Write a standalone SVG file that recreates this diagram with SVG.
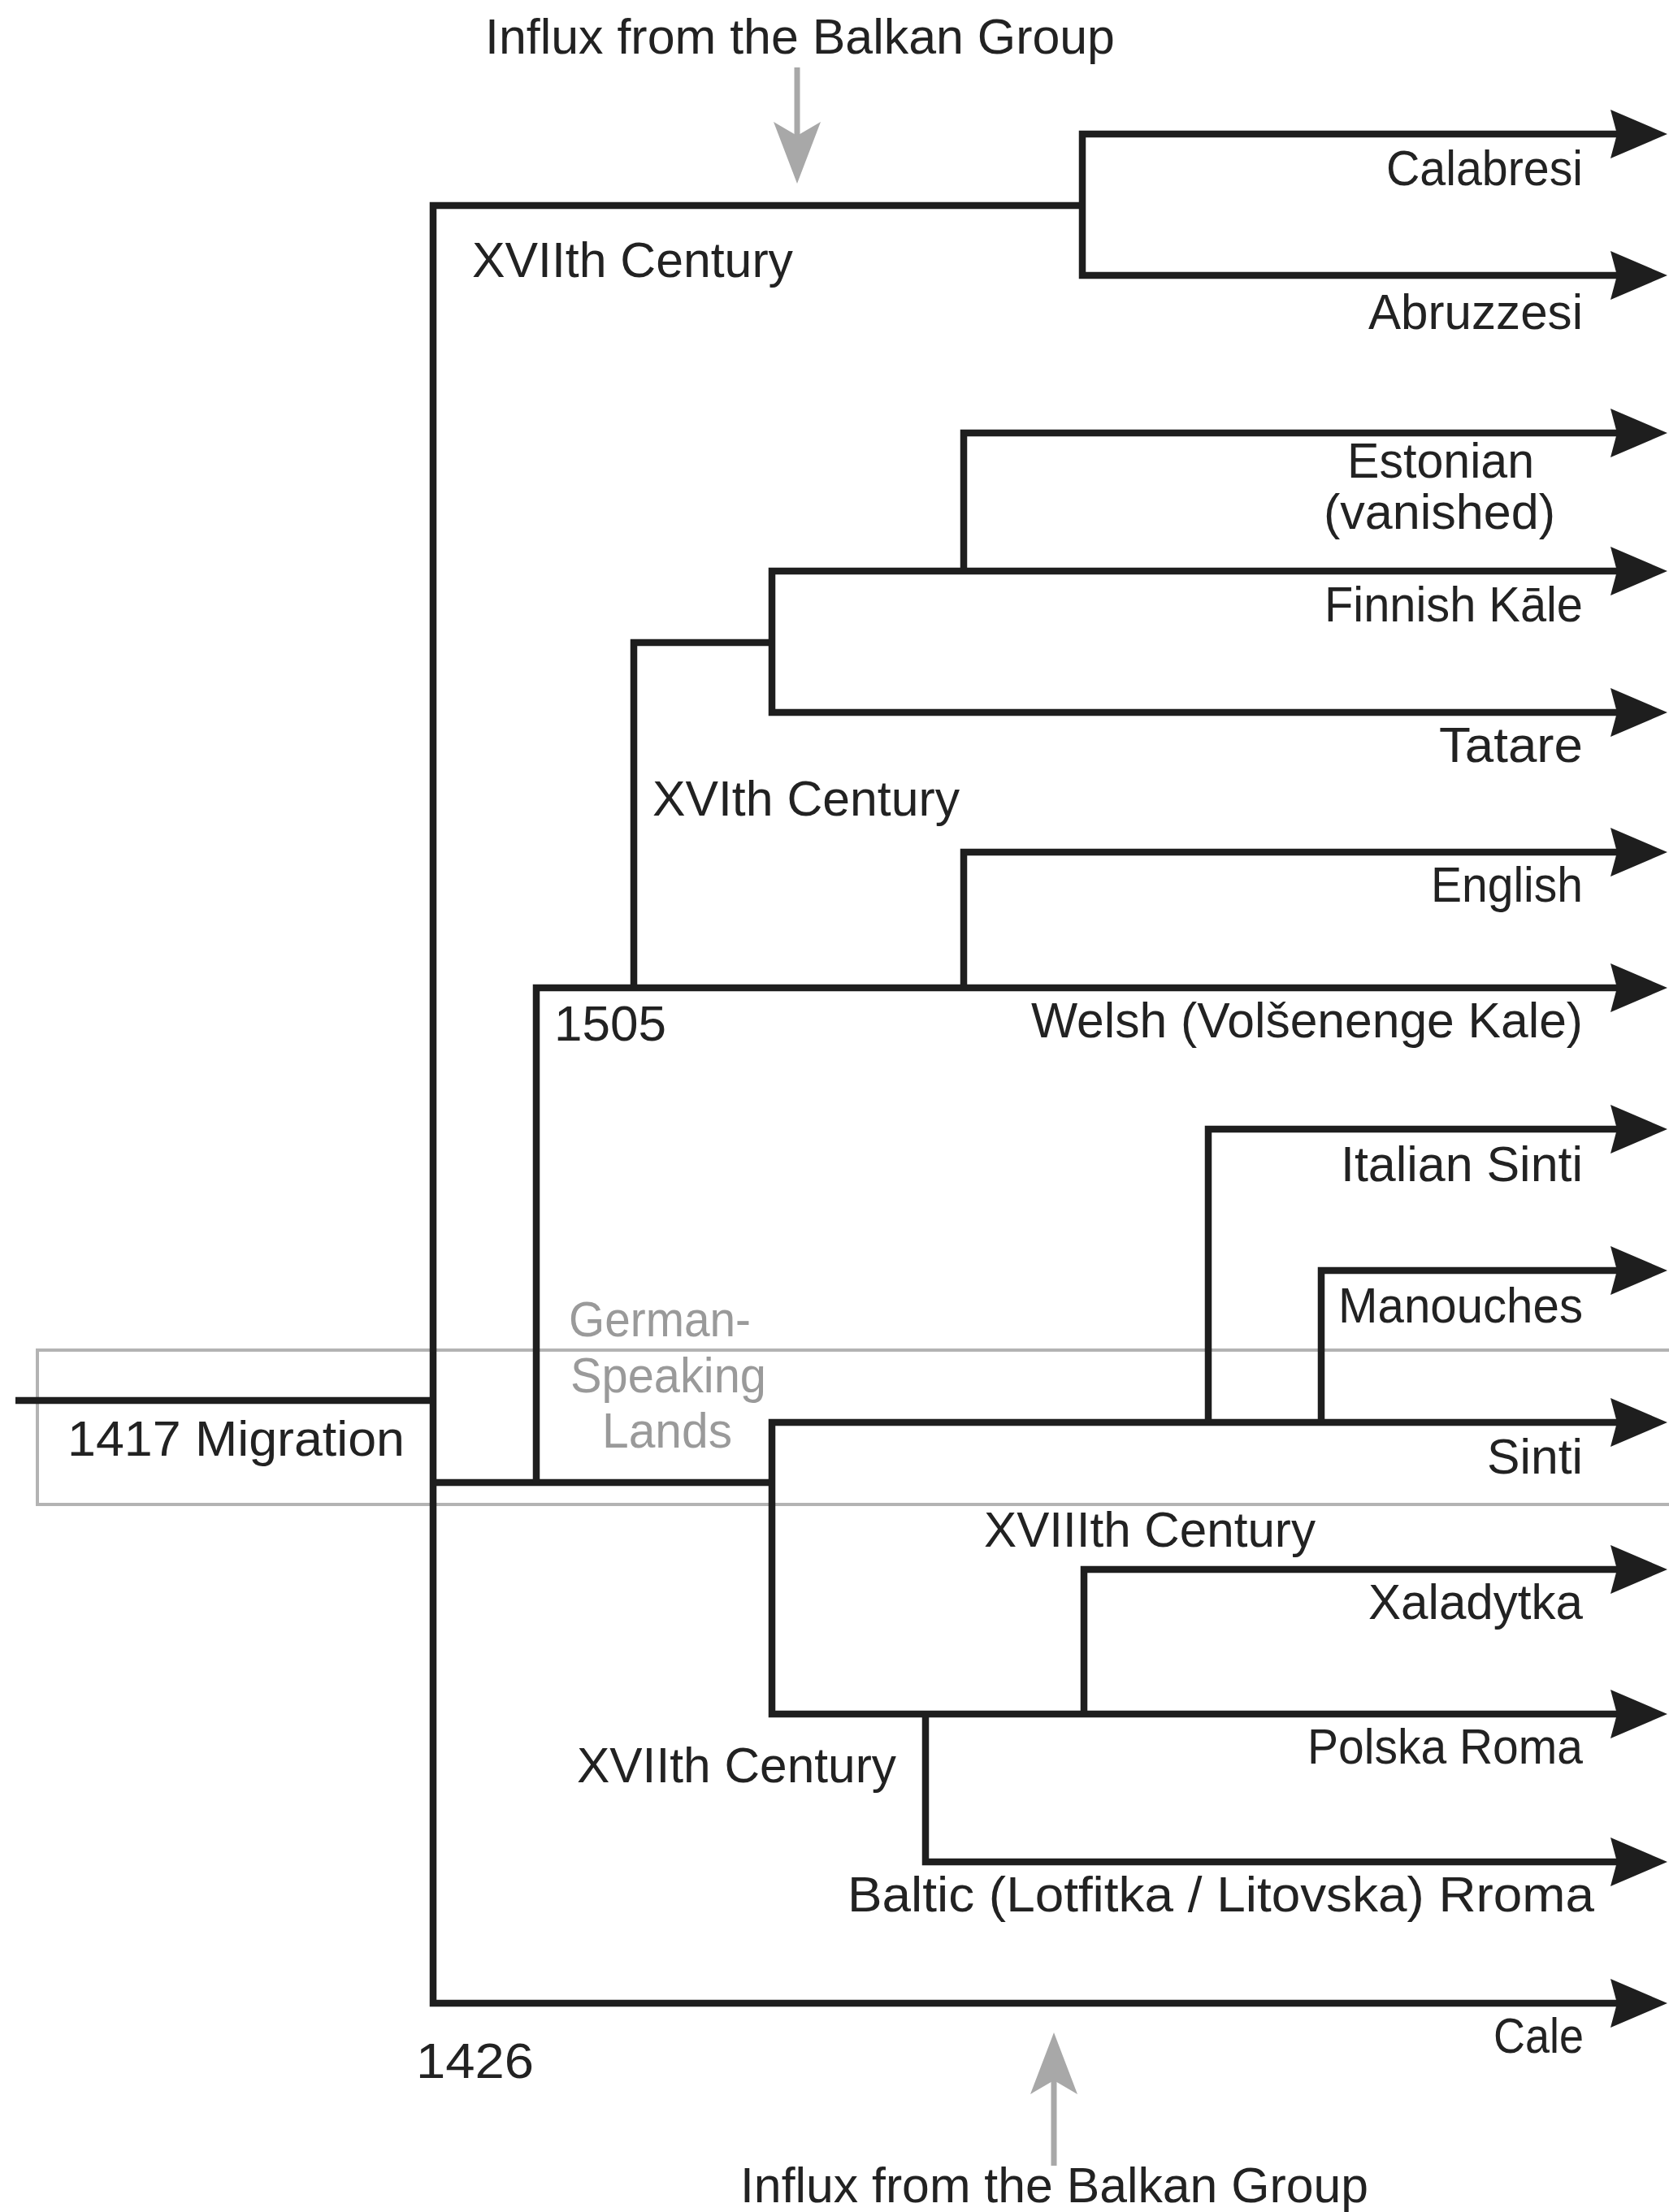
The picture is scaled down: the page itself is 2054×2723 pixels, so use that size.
<svg xmlns="http://www.w3.org/2000/svg" width="2054" height="2723" viewBox="0 0 2054 2723">
<style>
text{font-family:"Liberation Sans",Arial,sans-serif;font-size:61px;fill:#222}
text.g{fill:#9a9a9a}
.ln{fill:none;stroke:#1e1e1e;stroke-width:8.5;stroke-linejoin:miter;stroke-linecap:butt}
.ar{marker-end:url(#ah)}
.gl{fill:none;stroke:#a8a8a8;stroke-width:7}
.gh{fill:#a8a8a8}
</style>
<defs>
<marker id="ah" markerUnits="userSpaceOnUse" markerWidth="80" markerHeight="70" refX="10" refY="35" orient="auto">
<path d="M0,5 L70,35 L0,65 L8,35 Z" fill="#1e1e1e"/>
</marker>
</defs>
<rect x="0" y="0" width="2054" height="2723" fill="#fff"/>
<g id="region-german-speaking-lands">
<rect x="46" y="1662" width="2030" height="190" fill="none" stroke="#b3b3b3" stroke-width="4"/>
<text class="g" x="700" y="1645" textLength="224" lengthAdjust="spacingAndGlyphs">German-</text>
<text class="g" x="702" y="1714" textLength="241" lengthAdjust="spacingAndGlyphs">Speaking</text>
<text class="g" x="741" y="1782" textLength="160" lengthAdjust="spacingAndGlyphs">Lands</text>
</g>
<g id="connectors">
<path class="ln" d="M19,1724 H533"/>
<path class="ln" d="M533,1724 V253 H1332"/>
<path class="ln ar" d="M533,1724 V2466 H1992"/>
<path class="ln ar" d="M1332,253 V165 H1992"/>
<path class="ln ar" d="M1332,253 V339 H1992"/>
<path class="ln" d="M533,1825 H950"/>
<path class="ln ar" d="M660,1825 V1216 H1992"/>
<path class="ln" d="M780,1216 V791 H950"/>
<path class="ln ar" d="M950,791 V703 H1992"/>
<path class="ln ar" d="M950,791 V877 H1992"/>
<path class="ln ar" d="M1186,703 V533 H1992"/>
<path class="ln ar" d="M1186,1216 V1049 H1992"/>
<path class="ln ar" d="M950,1825 V1751 H1992"/>
<path class="ln ar" d="M950,1825 V2110 H1992"/>
<path class="ln ar" d="M1487,1751 V1390 H1992"/>
<path class="ln ar" d="M1626,1751 V1564 H1992"/>
<path class="ln ar" d="M1334,2110 V1932 H1992"/>
<path class="ln ar" d="M1139,2110 V2292 H1992"/>
<path class="gl" d="M981,83 V170"/>
<path class="gh" d="M981,226 L952,150 L981,167 L1010,150 Z"/>
<path class="gl" d="M1297,2556 V2666"/>
<path class="gh" d="M1297,2502 L1268,2578 L1297,2561 L1326,2578 Z"/>
</g>
<g id="influx-top"><text x="597" y="66" textLength="775" lengthAdjust="spacingAndGlyphs">Influx from the Balkan Group</text></g>
<g id="influx-bottom"><text x="911" y="2711" textLength="773" lengthAdjust="spacingAndGlyphs">Influx from the Balkan Group</text></g>
<g id="migration-1417"><text x="83" y="1792" textLength="415" lengthAdjust="spacingAndGlyphs">1417 Migration</text></g>
<g id="date-1426"><text x="512" y="2558" textLength="145" lengthAdjust="spacingAndGlyphs">1426</text></g>
<g id="date-1505"><text x="682" y="1281" textLength="138" lengthAdjust="spacingAndGlyphs">1505</text></g>
<g id="century-17-top"><text x="581" y="341" textLength="395" lengthAdjust="spacingAndGlyphs">XVIIth Century</text></g>
<g id="century-16"><text x="803" y="1004" textLength="378" lengthAdjust="spacingAndGlyphs">XVIth Century</text></g>
<g id="century-18"><text x="1211" y="1904" textLength="408" lengthAdjust="spacingAndGlyphs">XVIIIth Century</text></g>
<g id="century-17-bottom"><text x="710" y="2194" textLength="393" lengthAdjust="spacingAndGlyphs">XVIIth Century</text></g>
<g id="calabresi"><text x="1706" y="228" textLength="242" lengthAdjust="spacingAndGlyphs">Calabresi</text></g>
<g id="abruzzesi"><text x="1684" y="405" textLength="264" lengthAdjust="spacingAndGlyphs">Abruzzesi</text></g>
<g id="estonian"><text x="1658" y="588" textLength="230" lengthAdjust="spacingAndGlyphs">Estonian</text><text x="1629" y="651" textLength="285" lengthAdjust="spacingAndGlyphs">(vanished)</text></g>
<g id="finnish"><text x="1630" y="765" textLength="318" lengthAdjust="spacingAndGlyphs">Finnish Kāle</text></g>
<g id="tatare"><text x="1771" y="938" textLength="177" lengthAdjust="spacingAndGlyphs">Tatare</text></g>
<g id="english"><text x="1761" y="1110" textLength="187" lengthAdjust="spacingAndGlyphs">English</text></g>
<g id="welsh"><text x="1269" y="1277" textLength="679" lengthAdjust="spacingAndGlyphs">Welsh (Volšenenge Kale)</text></g>
<g id="italian-sinti"><text x="1650" y="1454" textLength="298" lengthAdjust="spacingAndGlyphs">Italian Sinti</text></g>
<g id="manouches"><text x="1647" y="1628" textLength="301" lengthAdjust="spacingAndGlyphs">Manouches</text></g>
<g id="sinti"><text x="1830" y="1814" textLength="118" lengthAdjust="spacingAndGlyphs">Sinti</text></g>
<g id="xaladytka"><text x="1684" y="1993" textLength="264" lengthAdjust="spacingAndGlyphs">Xaladytka</text></g>
<g id="polska-roma"><text x="1609" y="2171" textLength="339" lengthAdjust="spacingAndGlyphs">Polska Roma</text></g>
<g id="baltic"><text x="1043" y="2353" textLength="919" lengthAdjust="spacingAndGlyphs">Baltic (Lotfitka / Litovska) Rroma</text></g>
<g id="cale"><text x="1838" y="2527" textLength="111" lengthAdjust="spacingAndGlyphs">Cale</text></g>
</svg>
